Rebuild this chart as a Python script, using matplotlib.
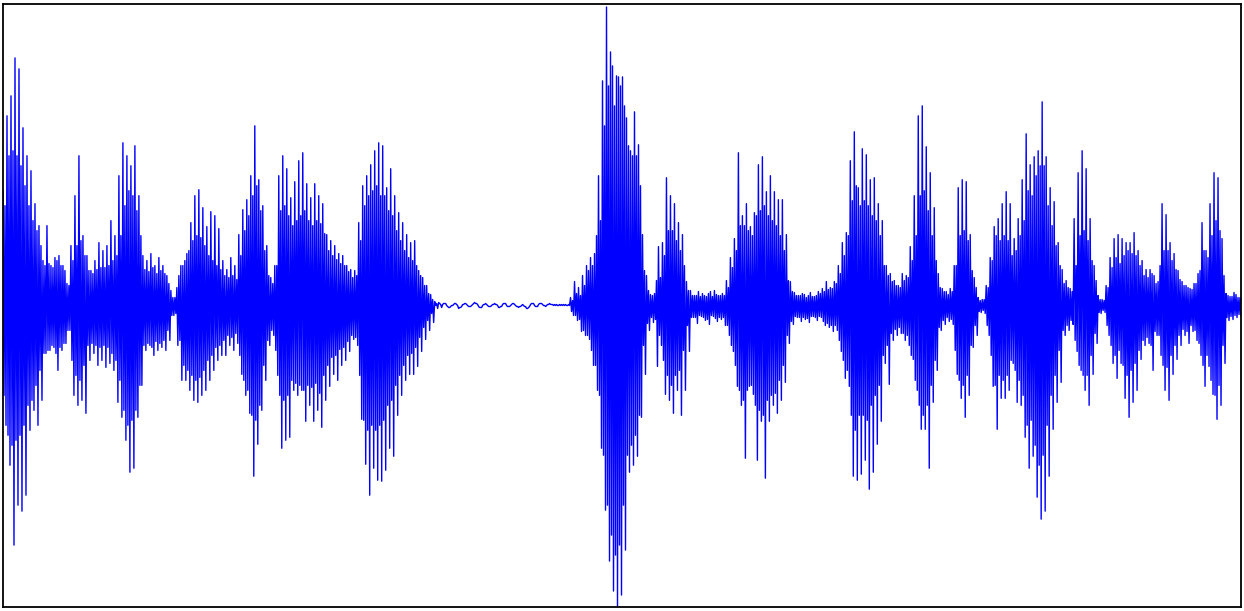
import numpy as np
import matplotlib
matplotlib.use("Agg")
import matplotlib.pyplot as plt

# Outer peak samples (amplitude units, ~ +/-300 full scale).
# Each pair is (upper peak, lower peak).
seg_1 = [
    115, -120, 190, -160, 210, -240, 248, -200, 237, -206,
    178, -190, 150, -125, 135, -105, 102, -120, 80, -95,
    45, -48, 80, -45, 40, -42, 48, -65, 50, -45,
    40, -38, 22, -25, 60, -90, 110, -100, 150, -95,
    70, -108, 50, -55, 35, -48, 45, -60, 63, -55,
    55, -62, 60, -58, 85, -65, 70, -97, 130, -112,
    163, -135, 150, -167, 140, -163, 160, -112, 110, -80,
    50, -45, 45, -40, 52, -50, 40, -45, 48, -42,
    40, -45, 30, -35, 15, -10, 8, -40, 30, -75,
    40, -75, 52, -85, 83, -95, 110, -97, 116, -90,
    98, -85, 79, -75, 94, -65, 90, -55, 77, -50,
]
seg_2 = [
    45, -50, 36, -40, 48, -45, 40, -38, 71, -69,
    96, -90, 106, -108, 130, -171, 180, -139, 126, -105,
    100, -75, 60, -40, 28, -30, 40, -70, 130, -143,
    150, -135, 137, -132, 108, -85, 124, -90, 145, -85,
    153, -116, 122, -100, 108, -116, 122, -105, 110, -122,
    102, -95, 71, -81, 65, -69, 60, -75, 52, -60,
    50, -55, 40, -46, 36, -34, 35, -40, 83, -114,
    120, -159, 130, -190, 141, -163, 155, -175, 163, -176,
    160, -165, 118, -143, 137, -151, 110, -110, 93, -90,
    83, -75, 71, -69, 63, -69, 65, -61, 35, -46,
    28, -34, 20, -25, 11, -17, 4, -3, 3, -2,
]
silence = [
    1, 2, 0, -2, -1, 1, 2, 0, -3, -1,
    1, 2, 1, -1, -1, 2, 3, 1, -1, -2,
    0, 2, 1, -1, -1, 1, 2, 0, -2, -1,
    1, 2, 0, -1, 0, 2, 1, -1, -2, 0,
    1, -1, -3, -1, 1, 2, 0, -1, 1, 2,
    1, -1, 0, 2, 1, 0, 1, 0, 0, 1,
]
seg_3 = [
    0, 1, 0, 0, 8, -10, 24, -15, 18, -26,
    30, -30, 40, -34, 48, -60, 52, -85, 130, -143,
    225, -205, 299, -256, 254, -286, 200, -301, 229, -290,
    229, -245, 188, -167, 155, -160, 194, -151, 161, -112,
    71, -69, 30, -25, 11, -17, 12, -61, 59, -40,
    63, -89, 128, -95, 110, -108, 102, -85, 83, -110,
    71, -85, 24, -46, 15, -12, 10, -18, 14, -11,
    12, -15, 9, -19, 14, -11, 15, -16, 10, -14,
    12, -20, 25, -30, 48, -46, 67, -81, 153, -100,
    90, -153, 102, -81, 79, -89, 93, -155, 141, -116,
    149, -173, 114, -116, 130, -100, 114, -108, 106, -95,
    106, -77, 71, -38, 24, -19, 13, -12, 10, -16,
    12, -14, 8, -17, 13, -11, 9, -15, 14, -12,
]
seg_4 = [
    17, -20, 24, -22, 18, -26, 24, -25, 40, -46,
    63, -73, 73, -81, 145, -171, 174, -175, 118, -169,
    157, -155, 151, -184, 126, -167, 128, -139, 102, -116,
    85, -58, 40, -79, 32, -35, 25, -30, 20, -28,
    32, -35, 30, -40, 59, -54, 110, -85, 190, -124,
    200, -124, 159, -163, 133, -97, 98, -65, 32, -25,
    17, -19, 14, -16, 17, -19, 40, -69, 118, -93,
    126, -112, 124, -90, 71, -42, 28, -30, 8, -7,
    6, -8, 20, -30, 48, -81, 79, -124, 87, -93,
    102, -93, 114, -85, 102, -58, 67, -97, 87, -100,
]
seg_5 = [
    126, -132, 172, -163, 141, -151, 149, -192, 155, -214,
    204, -206, 149, -171, 118, -124, 104, -97, 63, -77,
    36, -30, 25, -25, 17, -19, 87, -46, 133, -65,
    155, -85, 137, -100, 87, -69, 40, -38, 10, -8,
    6, -7, 20, -30, 48, -58, 67, -73, 71, -58,
    67, -93, 63, -112, 63, -97, 73, -85, 55, -54,
    45, -40, 36, -38, 36, -65, 30, -30, 24, -50,
    102, -85, 91, -95, 63, -69, 52, -54, 35, -40,
    24, -30, 20, -38, 17, -26, 22, -35, 32, -50,
    83, -81, 55, -61, 102, -89, 133, -114, 128, -100,
    67, -58, 12, -15, 9, -14, 13, -12, 8, -10,
]

# Inner (dense-core) samples between each upper and lower peak.
seg_1_inner = [
    -90, 100, -130, 150, -140, 155, -135, 150, -130, 140,
    -120, 120, -100, 100, -95, 85, -80, 75, -65, 60,
    -48, 40, -45, 42, -40, 38, -48, 45, -42, 40,
    -38, 35, -25, 20, -55, 45, -70, 60, -75, 65,
    -60, 50, -40, 35, -38, 32, -40, 36, -42, 38,
    -40, 38, -42, 40, -48, 45, -55, 50, -75, 70,
    -105, 100, -120, 115, -115, 110, -105, 95, -80, 70,
    -40, 36, -38, 34, -42, 38, -36, 32, -38, 35,
    -35, 32, -25, 22, -10, 8, -8, 18, -35, 40,
    -60, 45, -65, 55, -70, 65, -75, 70, -72, 68,
    -65, 60, -55, 50, -50, 45, -42, 40, -40, 36,
]
seg_2_inner = [
    -35, 30, -30, 28, -32, 30, -28, 26, -50, 50,
    -75, 75, -85, 90, -110, 110, -115, 120, -100, 95,
    -60, 55, -35, 30, -25, 22, -45, 40, -90, 95,
    -95, 100, -90, 90, -75, 80, -78, 85, -80, 90,
    -85, 95, -80, 85, -82, 80, -78, 85, -88, 82,
    -70, 72, -60, 55, -52, 50, -50, 46, -44, 42,
    -42, 40, -36, 34, -30, 28, -32, 30, -70, 65,
    -115, 100, -125, 110, -120, 115, -125, 120, -120, 110,
    -115, 110, -100, 95, -95, 90, -80, 75, -70, 65,
    -60, 55, -50, 48, -48, 45, -42, 40, -32, 30,
    -22, 20, -15, 12, -8, 6, 0, 2, 2, 1,
]
silence_inner = [
    2, 2, -1, -2, 0, 0, 2, 1, -2, -2,
    1, 2, 0, -1, 0, 1, 2, 2, -2, -2,
    1, 1, 0, -1, 0, 1, 1, 1, -2, -1,
    2, 2, -1, -1, 1, 2, 0, -1, -1, -1,
    0, -1, -3, -2, 2, 2, -1, -1, 2, 2,
    0, 0, 1, 1, 1, 1, 0, 1, 1, 0,
]
seg_3_inner = [
    1, 0, 0, 1, -6, 5, -10, 12, -14, 10,
    -25, 20, -30, 35, -45, 40, -60, 70, -90, 85,
    -150, 180, -200, 220, -230, 240, -250, 230, -240, 220,
    -200, 200, -150, 160, -140, 150, -130, 150, -110, 120,
    -40, 35, -18, 15, -12, 10, -14, 25, -30, 28,
    -55, 50, -70, 75, -80, 75, -70, 65, -65, 55,
    -45, 40, -20, 15, -12, 10, -12, 10, -10, 9,
    -12, 10, -14, 12, -10, 9, -13, 11, -12, 10,
    -12, 10, -20, 18, -40, 38, -60, 55, -85, 80,
    -95, 80, -85, 75, -80, 70, -100, 90, -105, 95,
    -110, 100, -95, 90, -90, 85, -88, 80, -75, 70,
    -60, 55, -30, 25, -16, 14, -11, 10, -12, 10,
    -12, 11, -13, 10, -11, 9, -12, 10, -11, 12,
]
seg_4_inner = [
    -16, 14, -18, 16, -20, 17, -20, 22, -35, 32,
    -55, 50, -65, 70, -110, 105, -125, 120, -110, 100,
    -110, 105, -115, 100, -100, 90, -90, 85, -80, 70,
    -50, 40, -40, 30, -28, 24, -24, 20, -22, 18,
    -28, 25, -30, 28, -50, 45, -75, 70, -100, 110,
    -110, 115, -100, 95, -80, 70, -55, 45, -22, 18,
    -15, 14, -12, 11, -14, 14, -45, 40, -75, 70,
    -80, 75, -70, 65, -40, 35, -20, 18, -6, 5,
    -5, 6, -20, 18, -50, 45, -80, 70, -70, 65,
    -75, 70, -70, 65, -55, 50, -65, 55, -75, 70,
]
seg_5_inner = [
    -90, 85, -120, 115, -115, 110, -140, 130, -160, 140,
    -150, 140, -120, 100, -90, 80, -70, 60, -45, 40,
    -25, 22, -20, 18, -15, 14, -35, 40, -60, 70,
    -70, 75, -70, 65, -50, 45, -28, 25, -7, 6,
    -5, 5, -20, 18, -40, 38, -50, 48, -45, 42,
    -60, 50, -70, 55, -65, 52, -58, 50, -45, 40,
    -35, 30, -32, 28, -40, 32, -26, 22, -30, 40,
    -60, 55, -62, 55, -50, 45, -40, 36, -30, 26,
    -24, 20, -26, 18, -20, 16, -25, 22, -38, 35,
    -60, 55, -50, 48, -75, 70, -90, 85, -80, 75,
    -40, 30, -12, 10, -11, 9, -10, 11, -9, 8,
]

outer = np.array(seg_1 + seg_2 + silence + seg_3 + seg_4 + seg_5, dtype=float).reshape(-1, 2)
inner = np.array(seg_1_inner + seg_2_inner + silence_inner + seg_3_inner
                 + seg_4_inner + seg_5_inner, dtype=float).reshape(-1, 2)
# sample order within each cycle: upper peak, inner, inner, lower peak
signal = np.column_stack([outer[:, 0], inner[:, 0], inner[:, 1], outer[:, 1]]).ravel()
t = np.arange(len(signal))

fig = plt.figure(figsize=(12.44, 6.11), dpi=100)
ax = fig.add_axes([3 / 1244, 4 / 611, 1238 / 1244, 603 / 611])
ax.plot(t, signal, color="#0000ff", linewidth=1.0)
ax.set_xlim(t[0], t[-1])
ax.set_ylim(-302, 302)
ax.set_xticks([])
ax.set_yticks([])
for s in ax.spines.values():
    s.set_linewidth(1.3)
    s.set_color("black")
fig.savefig("out.png", dpi=100)
